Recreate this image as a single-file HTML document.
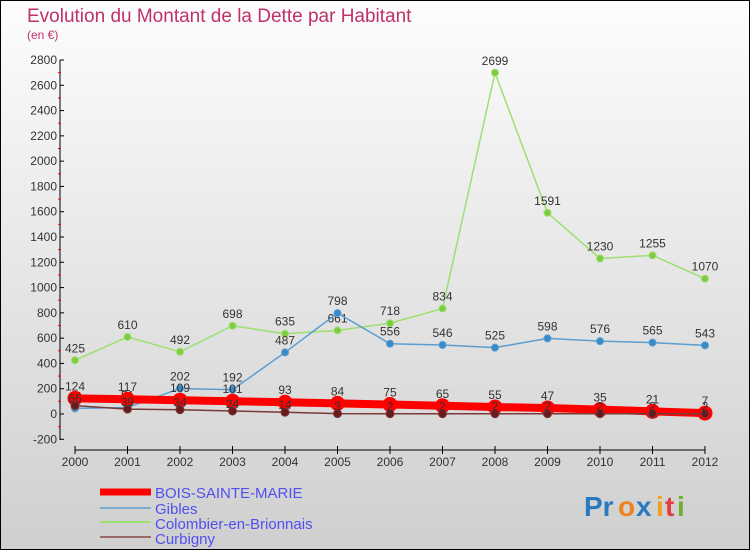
<!DOCTYPE html>
<html><head><meta charset="utf-8"><style>
body{margin:0;}
#wrap{width:750px;height:550px;position:relative;overflow:hidden;}
svg text{font-family:"Liberation Sans",sans-serif;}
</style></head><body>
<div id="wrap">
<svg id="c" width="750" height="550">
<defs><linearGradient id="bg" x1="0" y1="0" x2="0" y2="1"><stop offset="0" stop-color="#fdfdfd"/><stop offset="1" stop-color="#cfcfcf"/></linearGradient></defs>
<rect x="0" y="0" width="750" height="550" fill="url(#bg)" stroke="#000" stroke-width="2"/>
<text x="27" y="22" font-size="19" fill="#c0306a">Evolution du Montant de la Dette par Habitant</text>
<text x="27" y="39" font-size="12" fill="#c0306a">(en €)</text>
<g id="axes"></g><g id="series"></g>
<g>
<line x1="100" y1="492" x2="151" y2="492" stroke="#f00" stroke-width="7"/>
<line x1="100" y1="508" x2="151" y2="508" stroke="#7aaed0" stroke-width="2"/>
<line x1="100" y1="522" x2="151" y2="522" stroke="#9ce070" stroke-width="2"/>
<line x1="100" y1="537" x2="151" y2="537" stroke="#9a6a6a" stroke-width="2"/>
<text x="155" y="498" font-size="15" fill="#5050f0">BOIS-SAINTE-MARIE</text>
<text x="155" y="514" font-size="15" fill="#5050f0">Gibles</text>
<text x="155" y="529" font-size="15" fill="#5050f0">Colombier-en-Brionnais</text>
<text x="155" y="544" font-size="15" fill="#5050f0">Curbigny</text>
</g>
<g font-size="28" font-weight="bold">
<text x="584" y="516" fill="#2a7ac0">Pr</text><text x="618" y="516" fill="#f08020">o</text><text x="636" y="516" fill="#2a7ac0">x</text><text x="656" y="516" fill="#f0a020">i</text><text x="665" y="516" fill="#e04040">t</text><text x="677" y="516" fill="#70b030">i</text>
</g>
</svg></div>
<script>
const years=[2000,2001,2002,2003,2004,2005,2006,2007,2008,2009,2010,2011,2012];
const bsm=[124,117,109,101,93,84,75,65,55,47,35,21,7];
const gibles=[44,51,202,192,487,798,556,546,525,598,576,565,543];
const colombier=[425,610,492,698,635,661,718,834,2699,1591,1230,1255,1070];
const curbigny=[66,39,34,24,14,3,2,2,2,2,2,2,2];
const yTicks=[-200,0,200,400,600,800,1000,1200,1400,1600,1800,2000,2200,2400,2600,2800];
const NS="http://www.w3.org/2000/svg";
const X=i=>75+i*52.5, Y=v=>414-v*0.12643;
function mk(t,a,p){const e=document.createElementNS(NS,t);for(const k in a)e.setAttribute(k,a[k]);p.appendChild(e);return e;}
const ax=document.getElementById('axes');
mk('line',{x1:60,y1:60,x2:60,y2:440,stroke:'#000'},ax);
yTicks.forEach((v,i)=>{
 mk('line',{x1:60,y1:Y(v),x2:64,y2:Y(v),stroke:'#000'},ax);
 if(i<yTicks.length-1)mk('line',{x1:58,y1:Y(v+100),x2:61,y2:Y(v+100),stroke:'#f00'},ax);
 const t=mk('text',{x:57,y:Y(v)+4,'font-size':12,fill:'#333','text-anchor':'end'},ax);
 
 
 t.textContent=v;
});
mk('line',{x1:75,y1:450,x2:705,y2:450,stroke:'#000'},ax);
years.forEach((y,i)=>{
 mk('line',{x1:X(i),y1:446,x2:X(i),y2:454,stroke:'#000'},ax);
 const t=mk('text',{x:X(i),y:466,'font-size':12,fill:'#333','text-anchor':'middle'},ax);
 
 
 t.textContent=y;
});
const sg=document.getElementById('series');
function series(vals,color,w,r,dot,name,lblOff){
 const g=mk('g',{},sg);
 
 
 mk('polyline',{points:vals.map((v,i)=>X(i)+','+Y(v)).join(' '),fill:'none',stroke:color,'stroke-width':w},g);
 vals.forEach((v,i)=>{
  const c=mk('circle',{cx:X(i),cy:Y(v),r:r,fill:dot,stroke:color,'stroke-width':1},g);
  
  
  const t=mk('text',{x:X(i),y:Y(v)+lblOff,'font-size':12,fill:'#333','text-anchor':'middle'},g);
  
  
  t.textContent=v;
 });
}
series(colombier,'#9ce070',1.5,3.5,'#80cc40','colombier-series',-8);
series(gibles,'#5a9ed0',1.5,3.5,'#3a8ac8','gibles-series',-8);
series(bsm,'#f00',8,7,'#f00','bois-sainte-marie-series',-8);
series(curbigny,'#7a3a3a',1.5,4,'#6a1a1a','curbigny-series',-3);
</script>
</body></html>
